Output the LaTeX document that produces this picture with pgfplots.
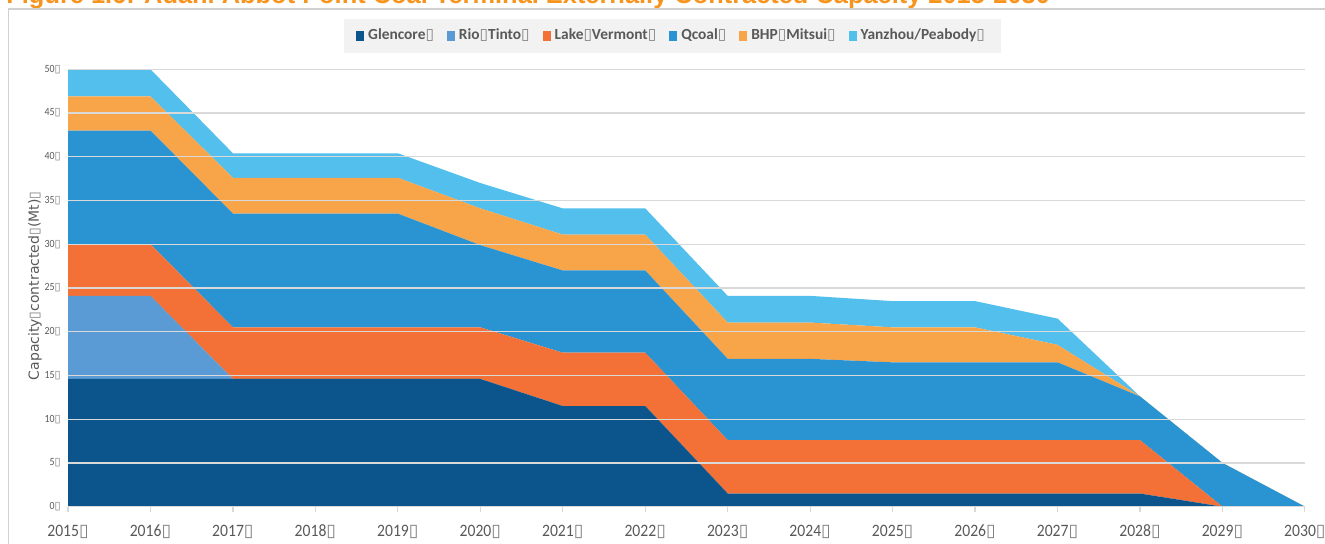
\documentclass[border=0pt]{standalone}
\usepackage{pgfplots}
\pgfplotsset{compat=1.18}
\usepackage{fontspec}
\setmainfont{Carlito}
\newfontfamily\dejavu{DejaVu Sans}
\newfontfamily\titlefont{Liberation Sans}
\newfontfamily\tickfont[FakeStretch=0.9]{Carlito}
\definecolor{glen}{HTML}{0B558C}
\definecolor{rio}{HTML}{5B9BD5}
\definecolor{lake}{HTML}{F37036}
\definecolor{qcoal}{HTML}{2A93D1}
\definecolor{bhp}{HTML}{F8A54A}
\definecolor{yanz}{HTML}{52BFED}
\definecolor{gridgray}{HTML}{D9D9D9}
\definecolor{framegray}{HTML}{D0D0D0}
\definecolor{textgray}{HTML}{595959}
\definecolor{leggray}{HTML}{F2F2F2}
\definecolor{titleorange}{HTML}{F7941E}
\newcommand{\bx}{{\dejavu\color{gray}▯}}

\pgfplotstableread{
year glen rio lake qcoal bhp yanz
2015 14.6 9.5 5.9 13.0 3.9  3.1
2016 14.6 9.5 5.9 13.0 3.9  3.1
2017 14.6 0   5.9 13.0 4.1  2.8
2018 14.6 0   5.9 13.0 4.1  2.8
2019 14.6 0   5.9 13.0 4.1  2.8
2020 14.6 0   5.9 9.4  4.2  2.9
2021 11.5 0   6.1 9.4  4.1  3.0
2022 11.5 0   6.1 9.4  4.1  3.0
2023 1.5  0   6.1 9.3  4.15 3.05
2024 1.5  0   6.1 9.3  4.15 3.05
2025 1.5  0   6.1 8.9  4.0  3.0
2026 1.5  0   6.1 8.9  4.0  3.0
2027 1.5  0   6.1 8.9  2.0  3.0
2028 1.5  0   6.1 5.0  0    0
2029 0    0   0   5.0  0    0
2030 0    0   0   0    0    0
}\capacity

\begin{document}
\begin{tikzpicture}[x=0.5pt,y=0.5pt]
\path[use as bounding box] (0,0) rectangle (1325,544);
\begin{scope}
\clip (0,0) rectangle (1325,544);
\node[anchor=base west, text=titleorange, inner sep=0pt,
  font=\titlefont\bfseries\fontsize{12.7}{14}\selectfont] at (6,540)
  {Figure 1.6: Adani Abbot Point Coal Terminal Externally Contracted Capacity 2015-2030};
\draw[framegray, line width=0.7pt] (8.5,-5) -- (8.5,535) -- (1335,535);
\end{scope}
\begin{axis}[
  at={(34pt,18.65pt)}, anchor=south west,
  scale only axis, width=618.5pt, height=218.7pt,
  xmin=2015, xmax=2030, ymin=0, ymax=50,
  stack plots=y, area style,
  axis lines*=left,
  x axis line style={gridgray, line width=0.6pt},
  y axis line style={draw=none},
  ymajorgrids, grid style={gridgray, line width=0.6pt},
  xtick={2015,...,2030},
  xticklabels={2015\bx,2016\bx,2017\bx,2018\bx,2019\bx,2020\bx,2021\bx,2022\bx,2023\bx,2024\bx,2025\bx,2026\bx,2027\bx,2028\bx,2029\bx,2030\bx},
  ytick={0,5,...,50},
  yticklabels={0\bx,5\bx,10\bx,15\bx,20\bx,25\bx,30\bx,35\bx,40\bx,45\bx,50\bx},
  tick align=outside,
  major tick length=2.5pt,
  xtick style={gridgray, line width=0.6pt},
  ytick style={draw=none},
  xticklabel style={font=\tickfont\fontsize{8.7}{9}\selectfont, text=textgray, inner sep=0pt, yshift=-6.5pt},
  yticklabel style={font=\tickfont\fontsize{5.5}{6}\selectfont, text=textgray, inner sep=0pt, xshift=-1pt},
  legend columns=6,
  legend style={at={(0.4887,1.076)}, anchor=center, fill=leggray, draw=none,
    font=\bfseries\fontsize{7.7}{9}\selectfont, text=textgray,
    inner xsep=6pt, inner ysep=3pt,
    /tikz/every even column/.append style={column sep=4.5pt},
    nodes={inner xsep=2pt}},
  legend image code/.code={\fill[#1] (0pt,-2.5pt) rectangle (4pt,2.5pt);},
]
\addplot[fill=glen, draw=none] table[x=year, y=glen]{\capacity} \closedcycle;
\addlegendentry{Glencore\bx}
\addplot[fill=rio, draw=none] table[x=year, y=rio]{\capacity} \closedcycle;
\addlegendentry{Rio\bx Tinto\bx}
\addplot[fill=lake, draw=none] table[x=year, y=lake]{\capacity} \closedcycle;
\addlegendentry{Lake\bx Vermont\bx}
\addplot[fill=qcoal, draw=none] table[x=year, y=qcoal]{\capacity} \closedcycle;
\addlegendentry{Qcoal\bx}
\addplot[fill=bhp, draw=none] table[x=year, y=bhp]{\capacity} \closedcycle;
\addlegendentry{BHP\bx Mitsui\bx}
\addplot[fill=yanz, draw=none] table[x=year, y=yanz]{\capacity} \closedcycle;
\addlegendentry{Yanzhou/Peabody\bx}
\end{axis}
\node[rotate=90, font=\dejavu\fontsize{7}{8}\selectfont, text=textgray] at (35,258)
  {Capacity\bx contracted\bx(Mt)\bx};
\end{tikzpicture}
\end{document}
